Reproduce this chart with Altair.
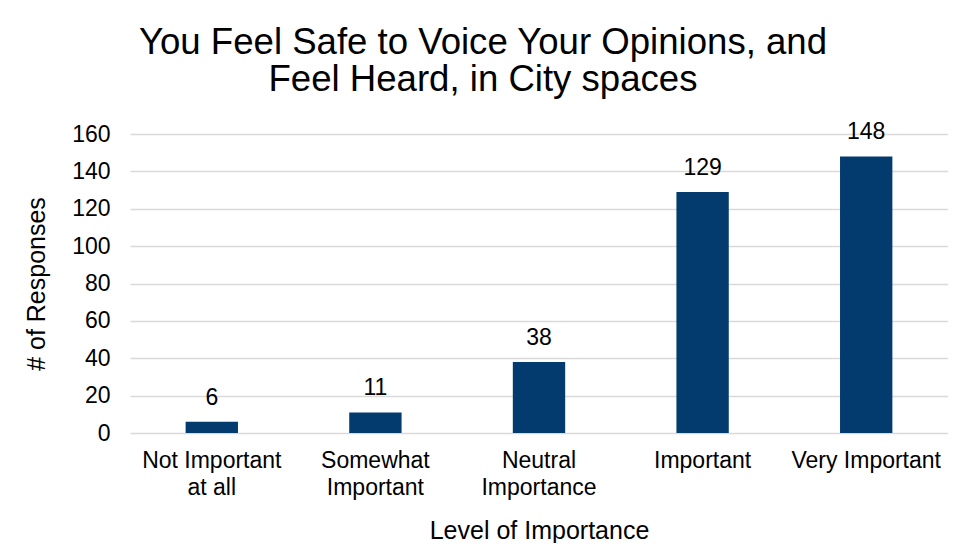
import altair as alt
import pandas as pd

categories = ["Not Important at all", "Somewhat Important", "Neutral Importance", "Important", "Very Important"]
label_lines = [["Not Important", "at all"], ["Somewhat", "Important"], ["Neutral", "Importance"], ["Important"], ["Very Important"]]
responses = [6, 11, 38, 129, 148]
y_ticks = [0, 20, 40, 60, 80, 100, 120, 140, 160]

df = pd.DataFrame({"category": categories, "responses": responses})

expr_parts = []
for c, lines in zip(categories, label_lines):
    arr = "[" + ",".join("'" + l + "'" for l in lines) + "]"
    expr_parts.append(f"datum.value == '{c}' ? {arr}")
label_expr = " : ".join(expr_parts) + " : datum.label"

FONT = "Liberation Sans"
BAR = "#033B6F"

x = alt.X(
    "category:N",
    sort=categories,
    scale=alt.Scale(paddingInner=0.68, paddingOuter=0.34),
    axis=alt.Axis(
        title="Level of Importance",
        labelAngle=0,
        labelExpr=label_expr,
        labelFont=FONT,
        labelFontSize=23,
        labelColor="#000000",
        labelPadding=16,
        labelBaseline="top",
        labelLineHeight=27,
        labelOverlap=False,
        ticks=False,
        domain=False,
        titleFont=FONT,
        titleFontSize=25,
        titleFontWeight="normal",
        titleColor="#000000",
        titlePadding=19,
    ),
)
y = alt.Y(
    "responses:Q",
    scale=alt.Scale(domain=[0, 160], nice=False),
    axis=alt.Axis(
        title="# of Responses",
        values=y_ticks,
        labelFont=FONT,
        labelFontSize=23,
        labelColor="#000000",
        labelPadding=20,
        labelOverlap=False,
        ticks=False,
        domain=False,
        grid=True,
        gridColor="#d9d9d9",
        gridWidth=1.5,
        titleFont=FONT,
        titleFontSize=25,
        titleFontWeight="normal",
        titleColor="#000000",
        titlePadding=22,
    ),
)

base = alt.Chart(df).encode(x=x, y=y)
bars = base.mark_bar(color=BAR)
text = base.mark_text(
    font=FONT, fontSize=23, color="#000000", baseline="alphabetic", dy=-17
).encode(text="responses:Q")

chart = (
    alt.layer(bars, text)
    .properties(
        width=818,
        height=299,
        padding={"left": 122, "top": 126, "right": 0, "bottom": 110},
        autosize=alt.AutoSizeParams(type="none"),
        title=alt.TitleParams(
            text=["You Feel Safe to Voice Your Opinions, and", "Feel Heard, in City spaces"],
            font=FONT,
            fontSize=36.6,
            fontWeight="normal",
            color="#000000",
            anchor="middle",
            frame="group",
            dx=-56,
            lineHeight=37,
            offset=23,
        ),
    )
    .configure_view(stroke=None)
)

chart.save("out.html", embed_options={"renderer": "svg", "actions": False})
